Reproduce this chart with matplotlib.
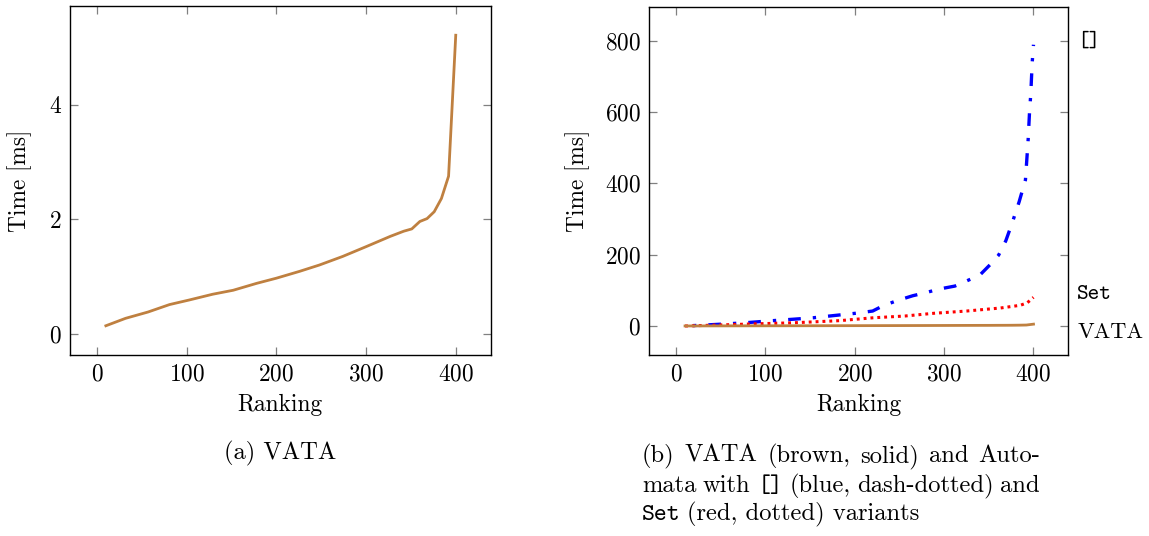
import matplotlib.pyplot as plt
import matplotlib.transforms as mtransforms

plt.rcParams['font.family'] = 'cmr10'
plt.rcParams['mathtext.fontset'] = 'cm'
plt.rcParams['axes.formatter.use_mathtext'] = True

# dados: tempo por ranking (ms)
rank_vata = [10, 32, 57, 81, 103, 129, 152, 178, 200, 226, 248, 274, 300, 327, 342, 351, 360, 368, 376, 384, 392, 400]
tempo_vata = [0.14, 0.27, 0.38, 0.51, 0.59, 0.69, 0.76, 0.88, 0.97, 1.09, 1.20, 1.35, 1.52, 1.70, 1.79, 1.83, 1.96, 2.01, 2.13, 2.36, 2.75, 5.21]

rank_lista = [10, 34, 57, 82, 108, 131, 153, 183, 202, 220, 231, 247, 265, 277, 295, 312, 323, 340, 353, 361, 369, 376, 384, 391, 394, 395.5, 397, 398.5, 400]
tempo_lista = [0, 3, 6, 10, 15, 19, 23, 31, 36, 42, 56, 71, 85, 92, 104, 112, 124, 143, 176, 199, 239, 288, 349, 410, 522, 597, 653, 737, 789]

rank_set = [10, 50, 82, 131, 183, 220, 256, 288, 325, 363, 385, 393, 400]
tempo_set = [0, 3, 5.6, 9, 15, 23, 28, 35.6, 42, 50.5, 58, 65, 80.5]

ticks_x = [0, 100, 200, 300, 400]
ticks_a = [0, 2, 4]
ticks_b = [0, 200, 400, 600, 800]

marrom = '#bf8040'
fs_tick = 16.8
fs_cap = 17.7

fig = plt.figure(figsize=(11.49, 5.36), dpi=100)
ax1 = fig.add_axes([0.0609, 0.3377, 0.3662, 0.6511])
ax2 = fig.add_axes([0.5651, 0.3377, 0.3647, 0.6487])

#grafico (a)
ax1.plot(rank_vata, tempo_vata, color=marrom, lw=2.0)
ax1.set_xlim(-30, 439)
ax1.set_ylim(-0.37, 5.72)
ax1.set_yticks(ticks_a)

#grafico (b)
ax2.plot(rank_vata, tempo_vata, color=marrom, lw=2.0, zorder=3)
ax2.plot(rank_lista, tempo_lista, color='blue', lw=2.4, linestyle=(5.0, (3.8, 3.6, 1.0, 3.6)))
ax2.plot(rank_set, tempo_set, color='red', lw=2.2, linestyle=(0, (0.95, 1.3)))
ax2.set_xlim(-30, 439)
ax2.set_ylim(-81.3, 894)
ax2.set_yticks(ticks_b)

for ax in (ax1, ax2):
    ax.set_xticks(ticks_x)
    ax.tick_params(direction='in', length=5.8, width=0.9, color='#808080',
                   top=True, right=True, labelsize=fs_tick, pad=6)
    for s in ax.spines.values():
        s.set_linewidth(1.0)
    ax.set_xlabel('Ranking', fontsize=fs_tick)
    ax.set_ylabel('Time [ms]', fontsize=fs_tick)
    ax.xaxis.label.set_va('center')
    ax.yaxis.label.set_va('center')

ax1.xaxis.set_label_coords(0.5, -0.143)
ax1.yaxis.set_label_coords(-0.119, 0.5)
ax2.xaxis.set_label_coords(0.5, -0.143)
ax2.yaxis.set_label_coords(-0.170, 0.5)

# rótulos das séries à direita
trans = mtransforms.blended_transform_factory(ax2.transAxes, ax2.transData)
for txt, yv, fam in [('[]', 800, 'cmtt10'), ('Set', 87, 'cmtt10'), ('VATA', -17, 'cmr10')]:
    ax2.annotate(txt, xy=(1.0, yv), xycoords=trans, xytext=(6.5, 0),
                 textcoords='offset points', ha='left', va='center',
                 fontsize=16, family=fam)

#legendas
fig.text(280 / 1149, 1 - 453 / 536, '(a) VATA', ha='center', va='center', fontsize=fs_cap)

renderer = fig.canvas.get_renderer()


def linha_justificada(palavras, x0, x1, base):
    # escreve as palavras espalhadas entre x0 e x1 (pixels)
    objs = []
    larg = 0
    for p in palavras:
        fam = 'cmr10'
        if isinstance(p, tuple):
            p, fam = p
        t = fig.text(0, 0, p, fontsize=fs_cap, ha='left', va='baseline', family=fam)
        w = t.get_window_extent(renderer).width
        objs.append((t, w))
        larg += w
    gap = (x1 - x0 - larg) / (len(palavras) - 1)
    x = x0
    for t, w in objs:
        t.set_position((x / 1149, 1 - base / 536))
        x += w + gap


linha_justificada(['(b)', 'VATA', '(brown,', 'solid)', 'and', 'Auto-'], 642, 1040, 462)
linha_justificada(['mata', 'with', ('[]', 'cmtt10'), '(blue,', 'dash-dotted)', 'and'], 642, 1040, 491.5)
t_set = fig.text(642 / 1149, 1 - 520.5 / 536, 'Set', family='cmtt10',
                 fontsize=fs_cap, ha='left', va='baseline')
w_set = t_set.get_window_extent(renderer).width
fig.text((642 + w_set + 6) / 1149, 1 - 520.5 / 536, '(red, dotted) variants',
         fontsize=fs_cap, ha='left', va='baseline')

fig.savefig('out.png', dpi=100)
